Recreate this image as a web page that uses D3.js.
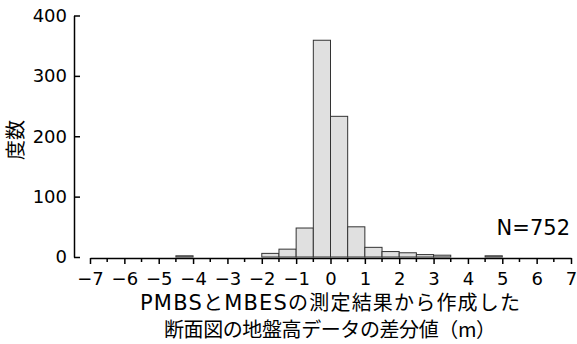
<!DOCTYPE html>
<html>
<head>
<meta charset="utf-8">
<script src="https://cdn.jsdelivr.net/npm/d3@7"></script>
<style>
  html, body { margin: 0; padding: 0; background: #fff; }
  svg { display: block; font-family: "Noto Sans CJK JP", "Noto Sans", sans-serif; }
</style>
</head>
<body>
<svg id="chart" width="577" height="344"></svg>
<script>
// Histogram of differences (bin width 0.5 m)
const binStarts = [-7, -6.5, -6, -5.5, -5, -4.5, -4, -3.5, -3, -2.5, -2, -1.5, -1, -0.5,
                   0, 0.5, 1, 1.5, 2, 2.5, 3, 3.5, 4, 4.5, 5, 5.5, 6, 6.5];
const counts    = [0, 0, 0, 0, 0, 2, 0, 0, 0, 0, 6, 13, 48, 359,
                   233, 50, 16, 9, 7, 4, 3, 0, 0, 2, 0, 0, 0, 0];
const binWidth = 0.5;
const xTicks = [-7, -6, -5, -4, -3, -2, -1, 0, 1, 2, 3, 4, 5, 6, 7];
const yTicks = [0, 100, 200, 300, 400];
const totalLabel = "N=752";
const yTitle = "度数";
// axis title split into runs so Latin letters can use a wider face
const xTitleRuns = [
  [["PMBS", true], ["と", false], ["MBES", true], ["の測定結果から作成した", false]],
  [["断面図の地盤高データの差分値（m）", false]]
];

const numFont = "\"DejaVu Sans\", sans-serif";
const svg = d3.select("#chart");
const x = d3.scaleLinear().domain([-7, 7]).range([90, 571]);
const y = d3.scaleLinear().domain([0, 400]).range([257, 15.5]);

const bins = binStarts.map((s, i) => ({ x0: s, x1: s + binWidth, n: counts[i] }));

// bars
svg.append("g").selectAll("rect")
  .data(bins.filter(d => d.n > 0))
  .join("rect")
  .attr("x", d => x(d.x0))
  .attr("y", d => y(d.n))
  .attr("width", d => x(d.x1) - x(d.x0))
  .attr("height", d => y(0) - y(d.n))
  .attr("fill", "#e0e0e0")
  .attr("stroke", "#333")
  .attr("stroke-width", 1);

// y axis: ticks point inward, labels drawn separately
const yAxis = d3.axisRight(y).tickValues(yTicks).tickSize(6).tickSizeOuter(0).tickFormat("");
const gy = svg.append("g").attr("transform", "translate(74,0)").call(yAxis);
gy.select(".domain").attr("stroke", "#000").attr("stroke-width", 1.5);
gy.selectAll("line").attr("stroke", "#000").attr("stroke-width", 1.5);
svg.append("g").selectAll("text")
  .data(yTicks)
  .join("text")
  .attr("x", 67)
  .attr("y", d => y(d))
  .attr("dy", "0.36em")
  .attr("text-anchor", "end")
  .attr("font-size", 18)
  .attr("font-family", numFont)
  .attr("fill", "#000")
  .text(d => d);

// x axis
const xAxis = d3.axisBottom(x).tickValues(xTicks).tickSize(6).tickSizeOuter(0)
  .tickFormat(d => d < 0 ? "−" + Math.abs(d) : d);
const gx = svg.append("g").attr("transform", `translate(0,${y(0) + 1})`).call(xAxis);
gx.select(".domain").attr("stroke", "#000").attr("stroke-width", 1.5);
gx.selectAll("line").attr("stroke", "#000").attr("stroke-width", 1.5);
gx.selectAll("text")
  .attr("font-size", 18)
  .attr("fill", "#000")
  .attr("font-family", numFont)
  .attr("y", 13)
  .attr("dy", "0.75em");
// minor ticks at half units
const minor = d3.range(-6.5, 7, 1);
gx.append("g").selectAll("line")
  .data(minor)
  .join("line")
  .attr("x1", d => x(d)).attr("x2", d => x(d))
  .attr("y1", 0).attr("y2", 4)
  .attr("stroke", "#000").attr("stroke-width", 1.5);

// sample size
svg.append("text")
  .attr("x", 570).attr("y", 235)
  .attr("text-anchor", "end")
  .attr("font-size", 21)
  .attr("font-family", numFont)
  .attr("fill", "#000")
  .text(totalLabel);

// y title
svg.append("text")
  .attr("transform", "translate(23,140) rotate(-90)")
  .attr("text-anchor", "middle")
  .attr("font-size", 20)
  .attr("fill", "#000")
  .text(yTitle);

// x title (two lines)
const titleWidths = [380, 332];
const titles = svg.append("g").selectAll("text")
  .data(xTitleRuns)
  .join("text")
  .attr("x", 330)
  .attr("y", (d, i) => 310 + i * 27)
  .attr("text-anchor", "middle")
  .attr("font-size", 20)
  .attr("textLength", (d, i) => titleWidths[i])
  .attr("lengthAdjust", "spacing")
  .attr("fill", "#000");
titles.selectAll("tspan")
  .data(d => d)
  .join("tspan")
  .attr("font-family", d => d[1] ? numFont : null)
  .attr("font-size", d => d[1] ? 21 : null)
  .text(d => d[0]);
</script>
</body>
</html>
